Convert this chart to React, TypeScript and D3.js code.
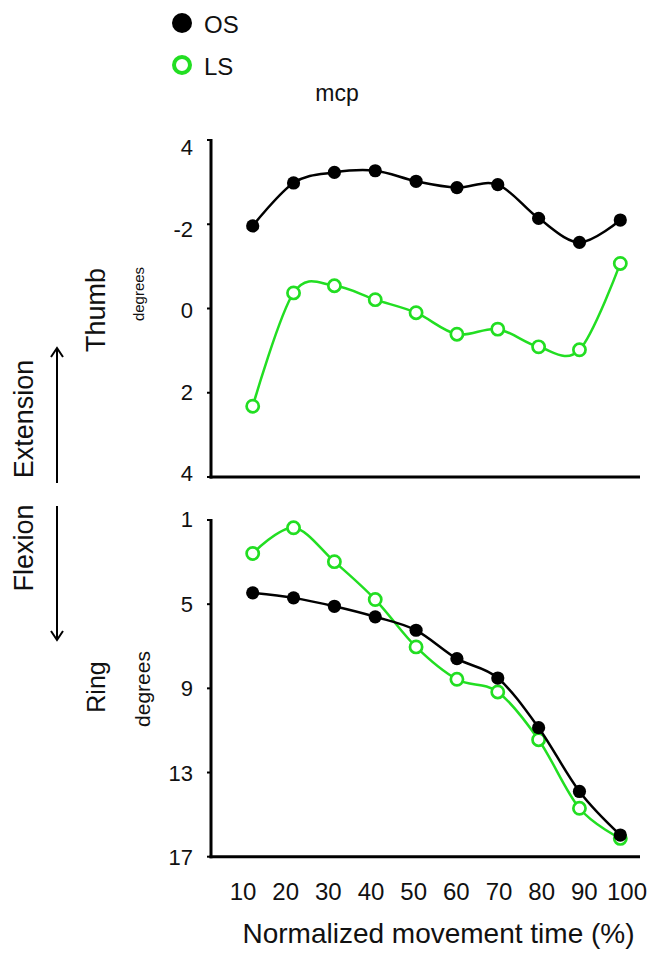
import React from "react";
import * as d3 from "d3";

const xValues = [10, 20, 30, 40, 50, 60, 70, 80, 90, 100];
const xTickLabels = ["10", "20", "30", "40", "50", "60", "70", "80", "90", "100"];

const thumbOS = [-1.96, -2.98, -3.23, -3.27, -3.02, -2.87, -2.94, -2.14, -1.57, -2.1];
const thumbLS = [2.32, -0.37, -0.54, -0.21, 0.1, 0.61, 0.49, 0.91, 0.98, -1.07];
const ringOS = [4.46, 4.7, 5.1, 5.6, 6.24, 7.59, 8.51, 10.87, 13.9, 15.97];
const ringLS = [2.59, 1.37, 2.98, 4.78, 7.03, 8.57, 9.17, 11.44, 14.7, 16.13];

const thumbTicks = [-4, -2, 0, 2, 4];
const thumbTickLabels = ["4", "-2", "0", "2", "4"];
const ringTicks = [1, 5, 9, 13, 17];
const ringTickLabels = ["1", "5", "9", "13", "17"];

const seriesNames = ["OS", "LS"];

const GREEN = "#22de22";
const FONT = "'Liberation Sans', Arial, sans-serif";

const W = 651;
const H = 958;

const AXIS_X = 211;
const AXIS_RIGHT = 640;

const x = d3.scaleLinear().domain([10, 100]).range([252.7, 620.3]);
const xLabel = d3.scaleLinear().domain([10, 100]).range([243, 627]);

const yThumb = d3.scaleLinear().domain([-4, 4]).range([140, 477]);
const yThumbLabel = d3.scaleLinear().domain([-4, 4]).range([147.5, 473]);
const yRing = d3.scaleLinear().domain([1, 17]).range([520, 856.7]);
const yRingLabel = d3.scaleLinear().domain([1, 17]).range([519, 857.5]);

function linePath(vals: number[], y: d3.ScaleLinear<number, number>) {
  const gen = d3
    .line<number>()
    .x((_, i) => x(xValues[i]))
    .y((v) => y(v))
    .curve(d3.curveCardinal.tension(0));
  return gen(vals) || "";
}

function Panel({
  y,
  yLabel,
  ticks,
  tickLabels,
  os,
  ls,
  osOnTop,
}: {
  y: d3.ScaleLinear<number, number>;
  yLabel: d3.ScaleLinear<number, number>;
  ticks: number[];
  tickLabels: string[];
  os: number[];
  ls: number[];
  osOnTop: boolean;
}) {
  const [top, bottom] = y.range();
  const lsG = (
    <g key="ls">
      <path d={linePath(ls, y)} fill="none" stroke={GREEN} strokeWidth={2.5} />
      {ls.map((v, i) => (
        <circle key={i} cx={x(xValues[i])} cy={y(v)} r={6.1} fill="#fff" stroke={GREEN} strokeWidth={2.7} />
      ))}
    </g>
  );
  const osG = (
    <g key="os">
      <path d={linePath(os, y)} fill="none" stroke="#000" strokeWidth={2.5} />
      {os.map((v, i) => (
        <circle key={i} cx={x(xValues[i])} cy={y(v)} r={6.6} fill="#000" />
      ))}
    </g>
  );
  return (
    <g>
      {/* axes */}
      <line x1={AXIS_X} x2={AXIS_X} y1={top - 1} y2={bottom + 1.5} stroke="#000" strokeWidth={3} />
      <line x1={AXIS_X - 1.5} x2={AXIS_RIGHT} y1={bottom} y2={bottom} stroke="#000" strokeWidth={3} />
      {ticks.map((t, i) => (
        <g key={i}>
          <line x1={AXIS_X - 4} x2={AXIS_X} y1={y(t)} y2={y(t)} stroke="#000" strokeWidth={2} />
          <text
            x={193}
            y={yLabel(t) + 7.9}
            textAnchor="end"
            fontFamily={FONT}
            fontSize={22}
            fill="#111"
          >
            {tickLabels[i]}
          </text>
        </g>
      ))}
      {osOnTop ? [lsG, osG] : [osG, lsG]}
    </g>
  );
}

export default function App() {
  return (
    <svg
      width={W}
      height={H}
      viewBox={`0 0 ${W} ${H}`}
      style={{ position: "absolute", left: 0, top: 0, background: "#fff" }}
    >
      <rect x={0} y={0} width={W} height={H} fill="#fff" />

      {/* legend */}
      <circle cx={182} cy={23} r={10} fill="#000" />
      <text x={204} y={33} fontFamily={FONT} fontSize={24} fill="#111">
        {seriesNames[0]}
      </text>
      <circle cx={182} cy={65} r={8} fill="#fff" stroke={GREEN} strokeWidth={4} />
      <text x={204} y={75} fontFamily={FONT} fontSize={24} fill="#111">
        {seriesNames[1]}
      </text>

      {/* title */}
      <text x={337} y={101} textAnchor="middle" fontFamily={FONT} fontSize={23} fill="#111">
        mcp
      </text>

      <Panel
        y={yThumb}
        yLabel={yThumbLabel}
        ticks={thumbTicks}
        tickLabels={thumbTickLabels}
        os={thumbOS}
        ls={thumbLS}
        osOnTop={true}
      />
      <Panel
        y={yRing}
        yLabel={yRingLabel}
        ticks={ringTicks}
        tickLabels={ringTickLabels}
        os={ringOS}
        ls={ringLS}
        osOnTop={true}
      />

      {/* x tick labels */}
      {xValues.map((v, i) => (
        <text
          key={i}
          x={xLabel(v)}
          y={900}
          textAnchor="middle"
          fontFamily={FONT}
          fontSize={24}
          fill="#111"
        >
          {xTickLabels[i]}
        </text>
      ))}
      <text x={438.5} y={943} textAnchor="middle" fontFamily={FONT} fontSize={28} fill="#111">
        Normalized movement time (%)
      </text>

      {/* vertical labels */}
      <text transform="translate(105,310) rotate(-90)" textAnchor="middle" fontFamily={FONT} fontSize={27} fill="#111">
        Thumb
      </text>
      <text transform="translate(144,294) rotate(-90)" textAnchor="middle" fontFamily={FONT} fontSize={15} fill="#111">
        degrees
      </text>
      <text transform="translate(105,687) rotate(-90)" textAnchor="middle" fontFamily={FONT} fontSize={25} fill="#111">
        Ring
      </text>
      <text transform="translate(150,689) rotate(-90)" textAnchor="middle" fontFamily={FONT} fontSize={21} fill="#111">
        degrees
      </text>
      <text transform="translate(33,419) rotate(-90)" textAnchor="middle" fontFamily={FONT} fontSize={27} fill="#111">
        Extension
      </text>
      <text transform="translate(33,548) rotate(-90)" textAnchor="middle" fontFamily={FONT} fontSize={27} fill="#111">
        Flexion
      </text>

      {/* arrows */}
      <line x1={57} x2={57} y1={350} y2={483} stroke="#000" strokeWidth={2} />
      <path d="M51,357 L57,348 L63,357" fill="none" stroke="#000" strokeWidth={2} />
      <line x1={57} x2={57} y1={506} y2={638} stroke="#000" strokeWidth={2} />
      <path d="M51,631 L57,640 L63,631" fill="none" stroke="#000" strokeWidth={2} />
    </svg>
  );
}
